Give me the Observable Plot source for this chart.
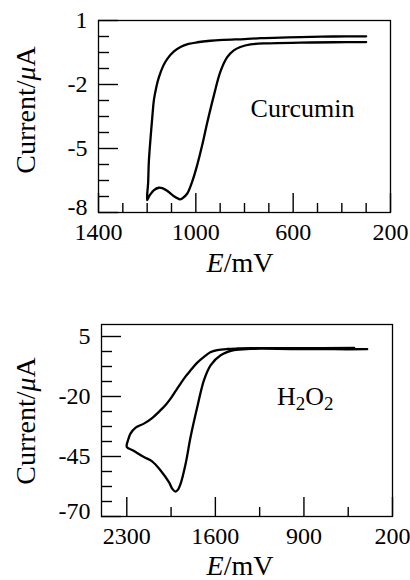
<!DOCTYPE html>
<html><head><meta charset="utf-8">
<script src="https://cdn.jsdelivr.net/npm/d3@7"></script>
<script src="https://cdn.jsdelivr.net/npm/@observablehq/plot@0.6"></script>
<style>
body{margin:0;background:#fff;}
#c svg{display:block;}
</style>
</head><body><div id="c"></div>
<script>
// ---- Curcumin CV (E in mV, I in µA): forward branch then return branch
const curcuminE = [300, 433, 570, 707, 775, 817, 844, 871, 899, 926, 953, 974, 995, 1015, 1036, 1056, 1066, 1090, 1118, 1138, 1152, 1172, 1190, 1200,
                   1196, 1193, 1186, 1178, 1172, 1162, 1152, 1135, 1118, 1090, 1063, 1030, 994, 940, 885, 800, 734, 650, 570, 433, 300];
const curcuminI = [-0.01, -0.02, -0.04, -0.07, -0.12, -0.24, -0.40, -0.72, -1.40, -2.52, -3.78, -4.85, -5.80, -6.55, -7.12, -7.34, -7.38, -7.24, -6.98, -6.86, -6.84, -6.95, -7.20, -7.42,
                   -6.6, -5.6, -4.5, -3.4, -2.7, -2.1, -1.67, -1.15, -0.81, -0.45, -0.24, -0.10, -0.02, 0.05, 0.09, 0.13, 0.17, 0.20, 0.22, 0.25, 0.26];
// ---- H2O2 CV
const h2o2E = [400, 662, 1000, 1321, 1453, 1558, 1638, 1690, 1743, 1796, 1835, 1875, 1895, 1915, 1940, 1967, 2033, 2100, 2165, 2250, 2300,
               2288, 2271, 2230, 2165, 2100, 2033, 1990, 1954, 1915, 1875, 1835, 1796, 1745, 1690, 1640, 1585, 1506, 1427, 1321, 925, 503];
const h2o2I = [-0.3, -0.3, -0.2, -0.15, -0.7, -2.8, -7.0, -13.2, -24.4, -36.9, -48.0, -56.4, -58.8, -59.6, -58.5, -55.7, -50.8, -47.0, -45.2, -42.5, -41.0,
               -37.8, -35.5, -33.0, -31.3, -29.0, -25.7, -23.3, -20.9, -17.8, -14.6, -11.6, -9.1, -6.0, -3.5, -1.6, -0.7, -0.2, 0.0, 0.1, 0.15, 0.2];

// ---- ticks
const topXMajor = [1400, 1000, 600, 200];
const topXMinor = [1300, 1200, 1100, 900, 800, 700, 500, 400, 300];
const topYMajor = [-8, -5, -2, 1];
const topYMinor = [-7.25, -6.5, -5.75, -4.25, -3.5, -2.75, -1.25, -0.5, 0.25];
const botXMajor = [2300, 1600, 900, 200];
const botXMinor = [1950, 1250, 550];
const botYMajor = [-70, -45, -20, 5];
const botYMinor = [-63.75, -57.5, -51.25, -38.75, -32.5, -26.25, -13.75, -7.5, -1.25];

// ---- annotations
const topLabel = [{E: 775, I: -3.15, text: "Curcumin"}];
const botLabel = {E: 1109, I: -23.75};

const font = "Liberation Serif, Times New Roman, serif";
const curData = curcuminE.map((e, i) => ({E: e, I: curcuminI[i]}));
const h2Data = h2o2E.map((e, i) => ({E: e, I: h2o2I[i]}));
const fmt = d => String(d);

function axes(xMaj, xMin, yMaj, yMin, fw, fh) {
  const yEdge = [yMaj[0]];
  const yRest = yMaj.slice(1);
  return [
    Plot.tickX(xMin, {x: d => d, insetTop: fh - 9, stroke: "black", strokeWidth: 1.4}),
    Plot.tickX(xMaj, {x: d => d, insetTop: fh - 19, stroke: "black", strokeWidth: 1.4}),
    Plot.tickY(yMin, {y: d => d, insetRight: fw - 11, stroke: "black", strokeWidth: 1.4}),
    Plot.tickY(yMaj, {y: d => d, insetRight: fw - 20, stroke: "black", strokeWidth: 1.4}),
    Plot.axisX({ticks: xMaj, tickSize: 0, tickPadding: 10, tickFormat: fmt, fontSize: 24, label: null}),
    Plot.axisY({ticks: yRest, tickSize: 0, tickPadding: 11, tickFormat: fmt, fontSize: 24, label: null}),
    Plot.axisY({ticks: yEdge, tickSize: 0, tickPadding: 11, tickFormat: fmt, fontSize: 24, label: null, dy: -5})
  ];
}

const chart1 = Plot.plot({
  width: 410, height: 290,
  marginLeft: 98, marginRight: 20, marginTop: 20, marginBottom: 78,
  style: {fontFamily: font, color: "black", background: "white"},
  x: {domain: [1400, 200]},
  y: {domain: [-8, 1]},
  marks: [
    Plot.frame({strokeWidth: 1.3}),
    ...axes(topXMajor, topXMinor, topYMajor, topYMinor, 292, 192),
    Plot.line(curData, {x: "E", y: "I", stroke: "black", strokeWidth: 2.3, curve: "catmull-rom"}),
    Plot.text(topLabel, {x: "E", y: "I", text: "text", textAnchor: "start", fontSize: 26})
  ]
});

const chart2 = Plot.plot({
  width: 410, height: 290,
  marginLeft: 101, marginRight: 18, marginTop: 34, marginBottom: 64,
  style: {fontFamily: font, color: "black", background: "white"},
  x: {domain: [2500, 200]},
  y: {domain: [-70, 10]},
  marks: [
    Plot.frame({strokeWidth: 1.3}),
    ...axes(botXMajor, botXMinor, botYMajor, botYMinor, 291, 192),
    Plot.line(h2Data, {x: "E", y: "I", stroke: "black", strokeWidth: 2.3, curve: "catmull-rom"})
  ]
});

function titles(svg, yCenter, xBase) {
  const s = d3.select(svg);
  const t1 = s.append("text").attr("transform", `translate(35,${yCenter}) rotate(-90)`)
    .attr("text-anchor", "middle").attr("font-family", font).attr("font-size", 28).attr("fill", "black");
  t1.append("tspan").text("Current/");
  t1.append("tspan").attr("font-style", "italic").text("μ");
  t1.append("tspan").text("A");
  const t2 = s.append("text").attr("x", 240).attr("y", xBase)
    .attr("text-anchor", "middle").attr("font-family", font).attr("font-size", 28).attr("fill", "black");
  t2.append("tspan").attr("font-style", "italic").text("E");
  t2.append("tspan").text("/mV");
}
titles(chart1, 110, 272);
titles(chart2, 131, 285);

// H2O2 label with subscripts
{
  const sx = chart2.scale("x"), sy = chart2.scale("y");
  const t = d3.select(chart2).append("text")
    .attr("x", sx.apply(botLabel.E)).attr("y", sy.apply(botLabel.I))
    .attr("text-anchor", "start")
    .attr("font-family", font).attr("font-size", 26).attr("fill", "black");
  t.append("tspan").text("H");
  t.append("tspan").attr("font-size", 19).attr("dy", 5).text("2");
  t.append("tspan").attr("dy", -5).text("O");
  t.append("tspan").attr("font-size", 19).attr("dy", 5).text("2");
}

document.getElementById("c").append(chart1, chart2);
</script>
</body></html>
